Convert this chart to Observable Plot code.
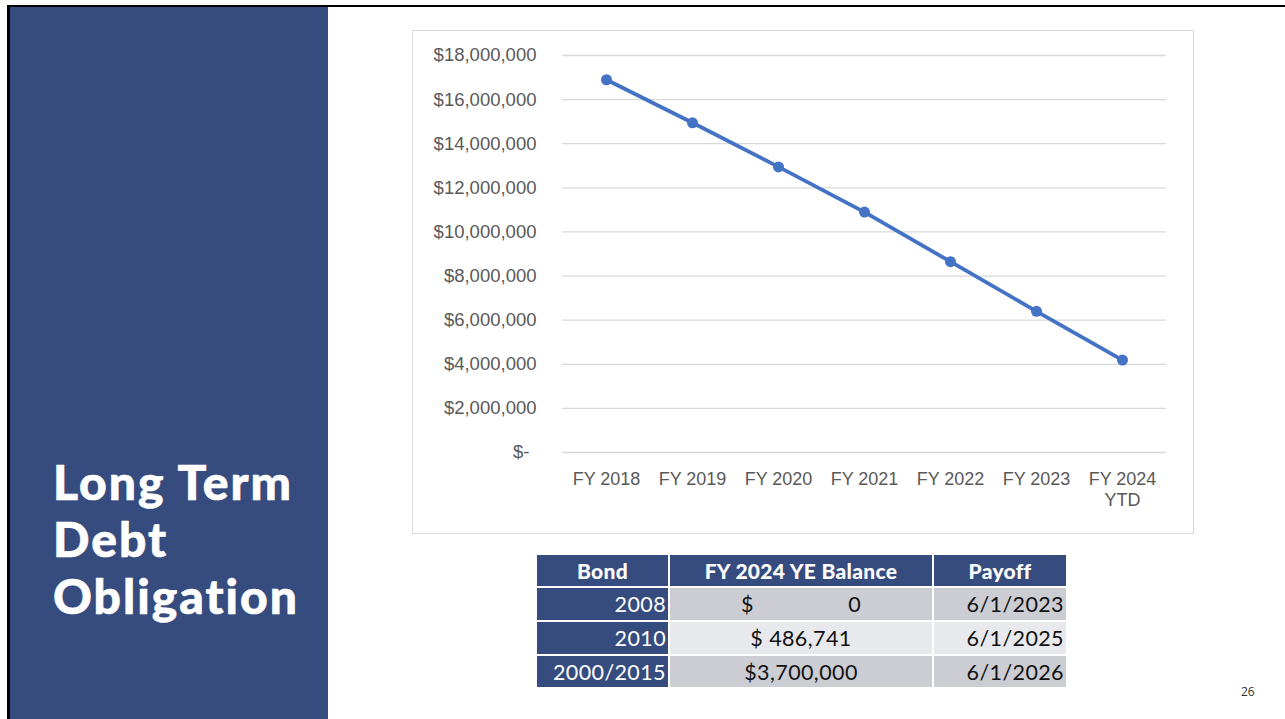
<!DOCTYPE html>
<html>
<head>
<meta charset="utf-8">
<script src="https://cdn.jsdelivr.net/npm/d3@7"></script>
<script src="https://cdn.jsdelivr.net/npm/@observablehq/plot@0.6"></script>
<style>
  html, body { margin: 0; padding: 0; background: #fff; }
  #page { position: relative; width: 1285px; height: 719px; overflow: hidden; background: #fff; }
  #topline { position: absolute; left: 7px; top: 5px; width: 1278px; height: 2px; background: #000; }
  #leftline { position: absolute; left: 7px; top: 5px; width: 3px; height: 714px; background: #000; }
  #panel { position: absolute; left: 10px; top: 7px; width: 318px; height: 712px; background: #374C7E; }
  #title { position: absolute; left: 53px; top: 453px; color: #fff; font-family: Lato, "Open Sans", sans-serif; font-weight: 900; font-size: 48px; line-height: 57px; letter-spacing: 2px; font-variant-ligatures: none; font-feature-settings: "liga" 0; -webkit-text-stroke: 0.6px #fff; }
  #chartbox { position: absolute; left: 412px; top: 30px; width: 780px; height: 502px; border: 1px solid #d9d9d9; box-sizing: content-box; }
  #chart { position: absolute; left: 412px; top: 30px; }
  #tbl { position: absolute; left: 537px; top: 555px; display: grid; grid-template-columns: 131px 262px 132px; grid-template-rows: 31px 32px 32px 31px; gap: 2px; font-family: Lato, "Open Sans", sans-serif; }
  #tbl div { display: flex; align-items: center; font-size: 21.5px; box-sizing: border-box; letter-spacing: 0.4px; }
  #tbl .h { background: #374C7E; color: #fff; font-weight: 900; justify-content: center; font-size: 21px; letter-spacing: 0.3px; }
  #tbl .b { background: #374C7E; color: #fff; justify-content: flex-end; padding-right: 2px; }
  #tbl .v { justify-content: center; color: #111; }
  #tbl .p { justify-content: flex-end; color: #111; padding-right: 2px; }
  #tbl .r1, #tbl .r3 { background: #cbcdd3; }
  #tbl .r2 { background: #e8e9ec; }
  #pg { position: absolute; left: 1241px; top: 683px; font-family: "Open Sans", sans-serif; font-size: 12px; color: #333; }
</style>
</head>
<body>
<div id="page">
  <div id="panel"></div>
  <div id="topline"></div>
  <div id="leftline"></div>
  <div id="title">Long Term<br>Debt<br>Obligation</div>
  <div id="chartbox"></div>
  <div id="chart"></div>
  <div id="tbl"></div>
  <div id="pg">26</div>
</div>
<script>
// Chart data
const years = ["FY 2018", "FY 2019", "FY 2020", "FY 2021", "FY 2022", "FY 2023", "FY 2024\nYTD"];
const balances = [16900000, 14950000, 12950000, 10900000, 8650000, 6400000, 4190000];
const yTicks = [0, 2000000, 4000000, 6000000, 8000000, 10000000, 12000000, 14000000, 16000000, 18000000];

// Table data
const tableHeaders = ["Bond", "FY 2024 YE Balance", "Payoff"];
const bonds = ["2008", "2010", "2000/2015"];
const ye_balances = ["$\u00a0\u00a0\u00a0\u00a0\u00a0\u00a0\u00a0\u00a0\u00a0\u00a0\u00a0\u00a0\u00a0\u00a0\u00a0\u00a00", "$ 486,741", "$3,700,000"];
const payoffs = ["6/1/2023", "6/1/2025", "6/1/2026"];

const data = years.map((y, i) => ({year: y, value: balances[i]}));
const fmt = d3.format(",");

const chart = Plot.plot({
  width: 781,
  height: 503,
  marginLeft: 150,
  marginRight: 27,
  marginTop: 25,
  marginBottom: 81,
  style: { fontFamily: "'Liberation Sans', Arial, sans-serif", fontSize: "18px", color: "#595959", background: "transparent" },
  x: { type: "point", domain: years, padding: 0.5, label: null },
  y: { domain: [0, 18000000], label: null },
  marks: [
    Plot.gridY(yTicks, { stroke: "#d9d9d9", strokeOpacity: 1, strokeWidth: 1.3 }),
    Plot.axisY(yTicks.filter(d => d !== 0), { tickSize: 0, tickPadding: 26, tickFormat: d => "$" + fmt(d), fill: "#595959", fontSize: 18.5, label: null }),
    Plot.axisY([0], { tickSize: 0, tickPadding: 33, tickFormat: () => "$-", fill: "#595959", fontSize: 18.5, label: null }),
    Plot.axisX({ tickSize: 0, tickPadding: 17, fill: "#595959", fontSize: 18, lineHeight: 1.2, label: null }),
    Plot.line(data, { x: "year", y: "value", stroke: "#4472C4", strokeWidth: 3.8 }),
    Plot.dot(data, { x: "year", y: "value", r: 5.5, fill: "#4472C4", stroke: "none" })
  ]
});
document.getElementById("chart").appendChild(chart);

// Build table
const tbl = document.getElementById("tbl");
function cell(cls, text) {
  const d = document.createElement("div");
  d.className = cls;
  d.textContent = text;
  tbl.appendChild(d);
}
tableHeaders.forEach(h => cell("h", h));
bonds.forEach((b, i) => {
  const rc = "r" + (i + 1);
  cell("b", b);
  cell("v " + rc, ye_balances[i]);
  cell("p " + rc, payoffs[i]);
});
</script>
</body>
</html>
